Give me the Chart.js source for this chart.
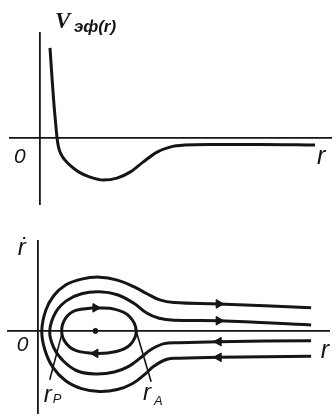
<!DOCTYPE html>
<html>
<head>
<meta charset="utf-8">
<script src="https://cdn.jsdelivr.net/npm/chart.js@4.4.1/dist/chart.umd.min.js"></script>
<style>
  html, body { margin: 0; padding: 0; background: #fff; }
  #wrap { position: relative; width: 336px; height: 420px; }
  canvas { position: absolute; left: 0; display: block; }
  #potencial { top: 0; }
  #fase { top: 210px; }
</style>
</head>
<body>
<div id="wrap">
  <canvas id="potencial" width="336" height="210"></canvas>
  <canvas id="fase" width="336" height="210"></canvas>
</div>
<script>
// эффективный потенциал V_эф(r)
const rPot = [0.5, 0.55, 0.625, 0.7, 0.775, 0.85, 0.925, 1.05, 1.25, 1.55, 1.95, 2.5, 3.15, 3.85, 4.5, 5.15, 5.85, 6.5, 7.25, 8.5, 11.0, 13.75];
const vPot = [4.48, 3.73, 2.63, 1.63, 0.78, 0, -0.48, -0.83, -1.13, -1.43, -1.73, -1.98, -2.13, -2.03, -1.73, -1.23, -0.73, -0.48, -0.38, -0.35, -0.35, -0.38];

// фазовые траектории (r, ṙ): внешняя инфинитная
const rOuter = [13.75, 9.1, 6.85, 6.1, 5.5, 4.85, 4.0, 3.1, 2.2, 1.4, 0.8, 0.4, 0.2, 0.35, 0.75, 1.4, 2.2, 3.1, 4.0, 4.75, 5.35, 5.85, 6.5, 7.1, 9.1, 13.75];
const vOuter = [1.18, 1.38, 1.45, 1.6, 1.9, 2.25, 2.6, 2.75, 2.65, 2.35, 1.8, 1.05, 0, -0.95, -1.85, -2.55, -2.95, -3.1, -3.0, -2.7, -2.25, -1.8, -1.45, -1.4, -1.35, -1.3];

// вторая инфинитная
const rInner = [13.75, 9.1, 6.85, 6.1, 5.5, 4.85, 4.0, 3.1, 2.2, 1.45, 0.9, 0.6, 0.8, 1.3, 2.0, 2.9, 3.85, 4.6, 5.2, 5.7, 6.35, 7.1, 9.1, 13.75];
const vInner = [0.3, 0.52, 0.55, 0.65, 0.9, 1.4, 1.85, 2.0, 1.9, 1.55, 0.95, 0, -0.85, -1.55, -2.05, -2.2, -2.1, -1.8, -1.35, -0.95, -0.65, -0.6, -0.55, -0.5];

// финитная (замкнутая) орбита между r_P и r_A
const rOrbit = [2.9, 3.9, 4.6, 4.95, 4.65, 3.95, 2.9, 1.9, 1.4, 1.2, 1.4, 1.9, 2.9];
const vOrbit = [1.18, 1.1, 0.75, 0, -0.7, -1.05, -1.15, -1.0, -0.6, 0, 0.65, 1.05, 1.18];

// стрелки направления движения
const rArrow = [2.9, 2.9, 9.1, 9.1, 9.1, 9.1];
const vArrow = [1.18, -1.15, 1.38, 0.52, -0.55, -1.35];
const arrowTurn = [90, -90, 90, 90, -90, -90];

// положение равновесия
const rCenter = [2.9];
const vCenter = [0];

// выноски r_P и r_A
const rPeri = [1.25, 0.6];
const vPeri = [0, -2.5];
const rApo = [4.95, 5.7];
const vApo = [0, -2.6];

const pts = (xs, ys) => xs.map((x, i) => ({ x, y: ys[i] }));
const INK = '#151515';
const sans = '"Liberation Sans", "DejaVu Sans", sans-serif';

function curve(xs, ys, width) {
  return {
    data: pts(xs, ys),
    showLine: true,
    borderColor: INK,
    borderWidth: width,
    pointRadius: 0,
    tension: 0.4,
    fill: false
  };
}

// оси рисуются линией сетки только в нуле
function axis(min, max) {
  return {
    type: 'linear',
    min, max,
    afterBuildTicks: s => { s.ticks = [{ value: 0 }]; },
    ticks: { display: false },
    border: { display: false },
    grid: { color: INK, lineWidth: 1.8, drawTicks: false }
  };
}

// подписи: смещение в пикселях от точки (x, y) в координатах графика
function podpisi(items) {
  return {
    id: 'podpisi',
    afterDraw(chart) {
      const { ctx, scales: { x, y } } = chart;
      ctx.save();
      ctx.fillStyle = INK;
      ctx.textBaseline = 'alphabetic';
      items.forEach(t => {
        const ax = t.ax || 0, ay = t.ay || 0;
        ctx.font = t.font;
        ctx.fillText(t.text, x.getPixelForValue(ax) + t.dx, y.getPixelForValue(ay) + t.dy);
      });
      ctx.restore();
    }
  };
}

const baseOptions = (pad, xs, ys) => ({
  responsive: false,
  animation: false,
  layout: { padding: pad },
  scales: { x: xs, y: ys },
  plugins: { legend: { display: false }, tooltip: { enabled: false } }
});

// r монотонно растёт, поэтому кривую потенциала сглаживаем монотонным сплайном
const potential = Object.assign(curve(rPot, vPot, 3), { cubicInterpolationMode: 'monotone' });

new Chart(document.getElementById('potencial'), {
  type: 'scatter',
  data: { datasets: [potential] },
  options: baseOptions({ left: 9, right: 4, top: 32, bottom: 5 }, axis(-1.55, 14.6), axis(-3.375, 5.275)),
  plugins: [podpisi([
    { text: 'V', font: 'italic bold 23px "Liberation Serif", serif', dx: 15, dy: -110 },
    { text: 'эф(r)', font: 'bold italic 17px ' + sans, dx: 34, dy: -106 },
    { text: '0', font: 'italic 21px ' + sans, dx: -26, dy: 25.5 },
    { text: 'r', font: 'italic 25px ' + sans, dx: 277, dy: 26.5 }
  ])]
});

const arrows = {
  data: pts(rArrow, vArrow),
  showLine: false,
  pointStyle: 'triangle',
  rotation: arrowTurn,
  pointRadius: 5,
  backgroundColor: INK,
  borderColor: INK,
  borderWidth: 1
};

const center = {
  data: pts(rCenter, vCenter),
  showLine: false,
  pointRadius: 2.5,
  backgroundColor: INK,
  borderColor: INK
};

new Chart(document.getElementById('fase'), {
  type: 'scatter',
  data: {
    datasets: [
      curve(rOuter, vOuter, 3),
      curve(rInner, vInner, 3),
      curve(rOrbit, vOrbit, 3),
      Object.assign(curve(rPeri, vPeri, 1.6), { tension: 0 }),
      Object.assign(curve(rApo, vApo, 1.6), { tension: 0 }),
      arrows,
      center
    ]
  },
  options: baseOptions({ left: 7, right: 4, top: 30, bottom: 2 }, axis(-1.55, 14.7), axis(-4.25, 4.65)),
  plugins: [podpisi([
    { text: 'ṙ', font: 'italic 24px ' + sans, dx: -20, dy: -76 },
    { text: '0', font: 'italic 21px ' + sans, dx: -21, dy: 20 },
    { text: 'r', font: 'italic 25px ' + sans, dx: 283, dy: 27 },
    { text: 'r', font: 'italic 24px ' + sans, ax: rPeri[1], ay: vPeri[1], dx: -6, dy: 22 },
    { text: 'P', font: 'italic 13px ' + sans, ax: rPeri[1], ay: vPeri[1], dx: 3, dy: 23 },
    { text: 'r', font: 'italic 24px ' + sans, ax: rApo[1], ay: vApo[1], dx: -8, dy: 18 },
    { text: 'A', font: 'italic 13px ' + sans, ax: rApo[1], ay: vApo[1], dx: 3, dy: 23 }
  ])]
});
</script>
</body>
</html>
